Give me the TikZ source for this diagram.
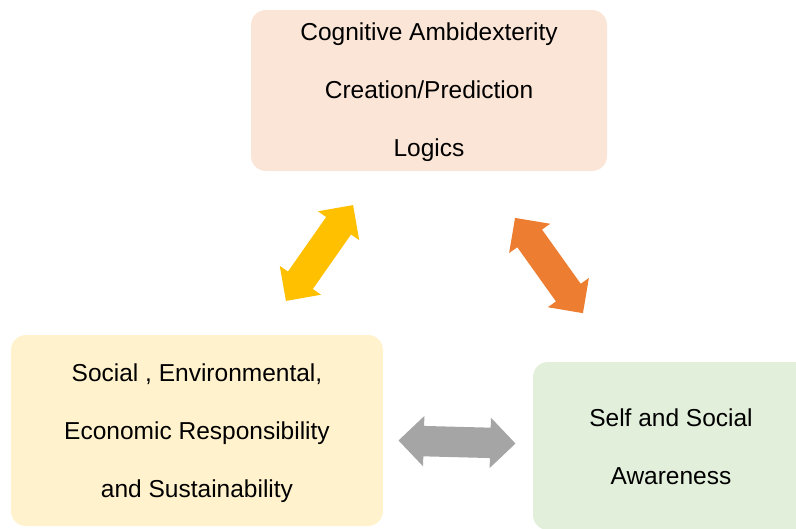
\documentclass[tikz,border=0pt]{standalone}
\usepackage{fontspec}
\setmainfont{Liberation Sans}
\usetikzlibrary{shapes.arrows}
\definecolor{peach}{HTML}{FBE5D6}
\definecolor{cream}{HTML}{FFF2CC}
\definecolor{mint}{HTML}{E2EFDA}
\definecolor{gold}{HTML}{FFC000}
\definecolor{tangerine}{HTML}{ED7D31}
\definecolor{slate}{HTML}{A5A5A5}
% invisible strut fixing the height (#1) and depth (#2) of a text line
\newcommand\boxstrut[2]{\rule[-#2]{0pt}{\dimexpr#1+#2\relax}}
\begin{document}
\begin{tikzpicture}[x=1pt,y=-1pt,
  box/.style={rounded corners=15pt, inner sep=0pt, align=center,
    font=\fontsize{24.5}{58}\selectfont},
  link/.style={double arrow, inner sep=0pt, draw=none,
    text height=15pt, text depth=15pt, text width=0pt,
    minimum height=117pt, minimum width=50pt, double arrow head extend=10pt}]
\useasboundingbox (0,0) rectangle (796,528);
\clip (0,0) rectangle (796,528);

% the three areas
\node[box, fill=peach, minimum width=356pt, minimum height=161pt] (cog) at (429,90.5)
  {\boxstrut{22pt}{6pt}Cognitive Ambidexterity\\Creation/Prediction\\
   Logics\boxstrut{22pt}{6pt}};
\node[box, fill=cream, minimum width=372pt, minimum height=191pt] (sust) at (197,430.5)
  {\boxstrut{24pt}{6pt}Social , Environmental,\\Economic Responsibility\\
   and Sustainability\boxstrut{24pt}{6pt}};
\node[box, fill=mint, minimum width=276pt, minimum height=168pt] (aware) at (671,446)
  {\boxstrut{25pt}{6pt}Self and Social\\Awareness\boxstrut{25pt}{6pt}};

% two-way block arrows between the areas
\node[link, fill=gold, rotate=55] (cogsust) at (319.5,253) {};
\node[link, fill=tangerine, rotate=-54.5] (cogaware) at (549,265.5) {};
\node[link, fill=slate, rotate=-1.5] (sustaware) at (457,442) {};
\end{tikzpicture}
\end{document}
